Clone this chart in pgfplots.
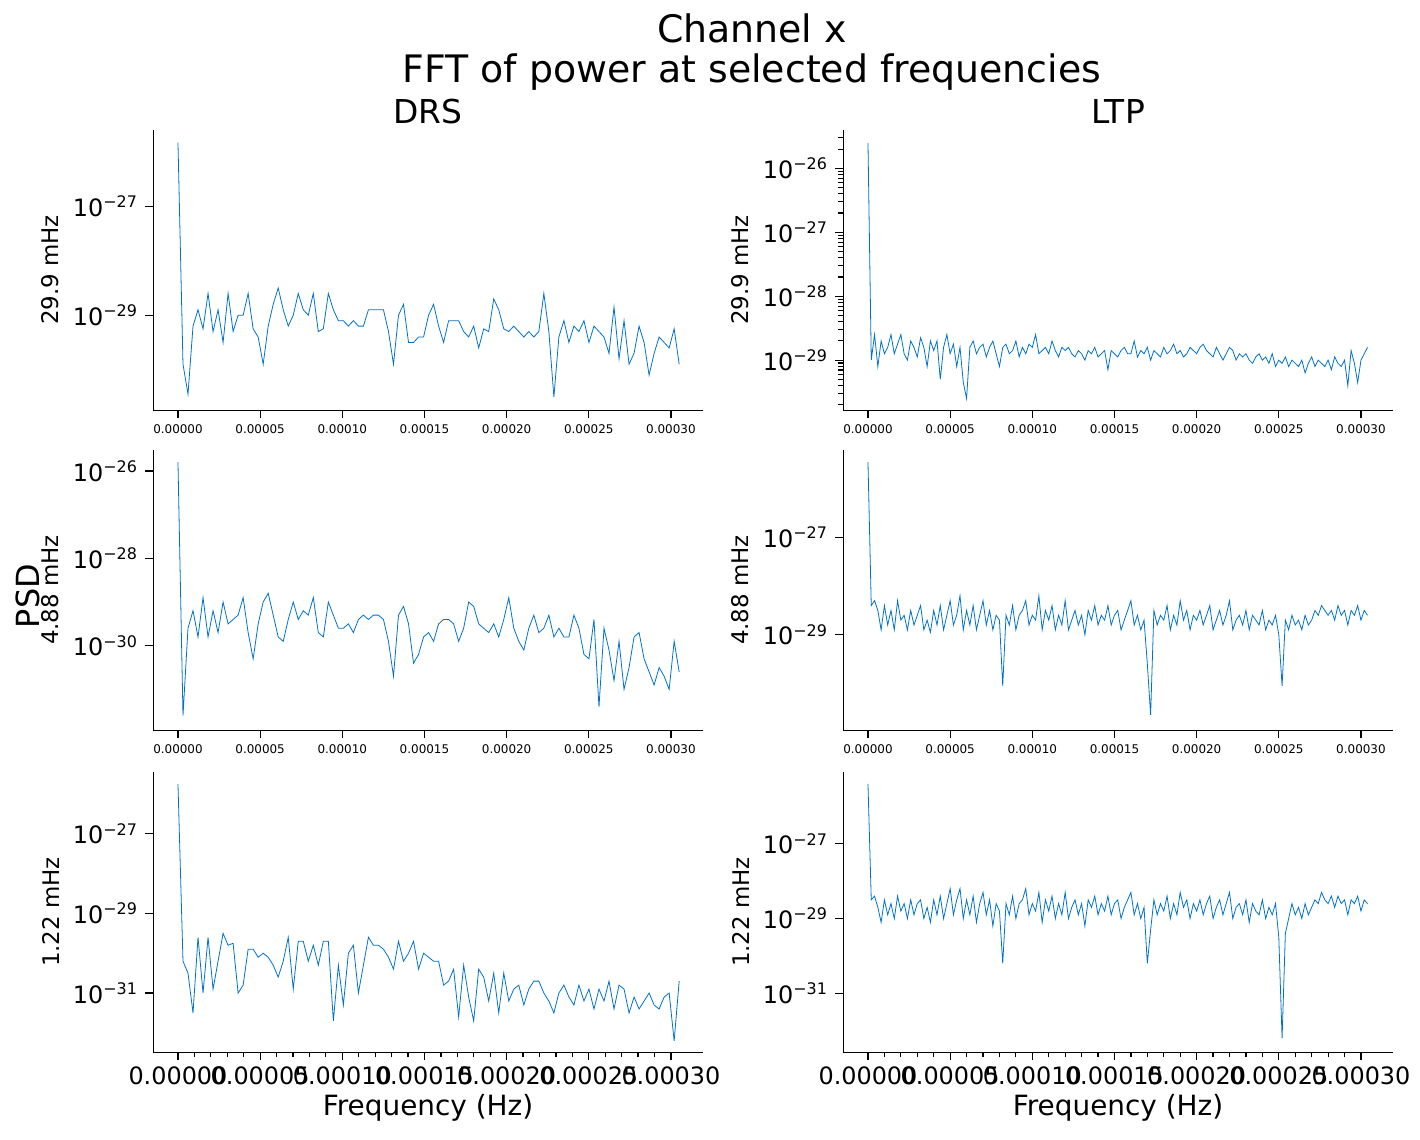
\documentclass[border=0pt]{standalone}
\usepackage{fontspec}
\setmainfont{DejaVu Sans}
\usepackage{pgfplots}
\usepackage{pgfplotstable}
\pgfplotsset{compat=1.18}
\definecolor{psdblue}{RGB}{0,114,206}
\pgfplotstableread{
y
-25.83
-29.9
-30.45
-29.2
-28.9
-29.25
-28.6
-29.3
-28.9
-29.5
-28.6
-29.3
-29.0
-29.0
-28.6
-29.25
-29.4
-29.9
-29.2
-28.8
-28.5
-28.9
-29.2
-29.0
-28.6
-28.9
-29.0
-28.6
-29.3
-29.25
-28.6
-28.9
-29.1
-29.1
-29.2
-29.1
-29.2
-29.2
-28.9
-28.9
-28.9
-28.9
-29.3
-29.9
-29.0
-28.8
-29.5
-29.5
-29.4
-29.4
-29.0
-28.8
-29.2
-29.5
-29.1
-29.1
-29.1
-29.3
-29.4
-29.2
-29.6
-29.25
-29.3
-28.7
-28.9
-29.25
-29.3
-29.2
-29.3
-29.4
-29.3
-29.4
-29.3
-28.6
-29.3
-30.5
-29.4
-29.1
-29.5
-29.2
-29.3
-29.1
-29.5
-29.2
-29.3
-29.4
-29.7
-28.85
-29.8
-29.1
-29.9
-29.7
-29.2
-29.5
-30.1
-29.7
-29.4
-29.5
-29.6
-29.25
-29.9
}\rOneL
\pgfplotstableread{
y
-25.8
-31.6
-29.6
-29.2
-29.8
-28.9
-29.8
-29.2
-29.7
-29.0
-29.5
-29.4
-29.3
-28.9
-29.7
-30.3
-29.5
-29.0
-28.8
-29.3
-29.8
-29.9
-29.4
-29.0
-29.4
-29.2
-29.3
-28.9
-29.7
-29.8
-29.0
-29.3
-29.6
-29.6
-29.5
-29.7
-29.4
-29.3
-29.4
-29.3
-29.3
-29.4
-29.9
-30.7
-29.3
-29.1
-29.5
-30.4
-30.2
-29.8
-29.7
-29.9
-29.5
-29.4
-29.4
-29.5
-29.9
-29.6
-29.0
-29.1
-29.5
-29.6
-29.7
-29.5
-29.8
-29.4
-28.9
-29.6
-29.9
-30.1
-29.6
-29.3
-29.7
-29.6
-29.3
-29.8
-29.6
-29.8
-29.8
-29.3
-29.6
-30.2
-30.3
-29.4
-31.4
-29.6
-30.1
-30.8
-29.9
-31.0
-30.5
-29.8
-29.7
-30.3
-30.6
-30.9
-30.5
-30.7
-31.0
-29.9
-30.6
}\rTwoL
\pgfplotstableread{
y
-25.75
-30.2
-30.5
-31.5
-29.6
-31.0
-29.6
-30.9
-30.2
-29.5
-29.8
-29.75
-31.0
-30.8
-29.9
-29.9
-30.1
-30.0
-30.1
-30.3
-30.6
-30.2
-29.6
-30.9
-29.7
-29.7
-30.2
-29.8
-30.3
-29.7
-29.7
-31.7
-30.3
-31.3
-30.0
-29.8
-31.0
-30.3
-29.6
-29.8
-29.8
-29.9
-30.1
-30.4
-29.7
-30.2
-30.0
-29.7
-30.4
-30.0
-30.1
-30.2
-30.2
-30.8
-30.7
-30.4
-31.6
-30.3
-31.1
-31.7
-30.4
-30.6
-31.2
-30.5
-31.5
-30.5
-31.2
-30.9
-30.8
-31.3
-30.9
-30.7
-30.7
-31.0
-31.2
-31.5
-31.0
-30.8
-31.1
-31.3
-30.8
-31.2
-30.9
-31.4
-30.9
-31.2
-30.7
-31.4
-30.8
-30.9
-31.5
-31.1
-31.4
-31.2
-31.0
-31.3
-31.4
-31.1
-31.0
-32.2
-30.7
}\rThreeL
\pgfplotstableread{
y
-25.6 
-29.0 
-28.6 
-29.1 
-28.7 
-28.9 
-28.8 
-28.6 
-28.9 
-28.75
-28.6 
-28.9 
-29.0 
-28.7 
-28.8 
-28.95
-28.65
-28.8 
-29.1 
-28.7
-28.85
-28.7 
-29.3 
-28.8 
-28.6 
-28.9 
-28.75
-29.1 
-28.8 
-29.35
-29.6 
-28.8 
-28.7 
-28.9 
-28.8 
-28.75
-28.95
-28.8 
-28.7 
-28.9
-29.1 
-28.8 
-28.75
-28.9 
-28.85
-28.7 
-28.95
-28.8 
-28.9 
-28.75
-28.8 
-28.6 
-28.9 
-28.85
-28.8 
-28.9 
-28.7 
-28.85
-28.95
-28.8
-28.85
-28.8 
-28.9 
-28.95
-28.85
-28.9 
-29.0 
-28.85
-28.9 
-28.8
-28.95
-28.9 
-28.85
-29.15
-28.85
-28.9 
-28.95
-28.85
-28.8 
-28.9
-28.9 
-28.7 
-28.95
-28.85
-28.9 
-28.8 
-29.0 
-28.85
-28.9 
-28.95
-28.8 
-28.9 
-28.85
-28.75
-28.9 
-28.85
-28.95
-28.9 
-28.8 
-28.85
-28.9 
-28.8 
-28.75
-28.85
-28.9 
-28.95
-28.8 
-28.9 
-29.0 
-28.9
-28.8 
-28.85
-29.0 
-28.9 
-28.95
-28.9 
-29.0 
-29.05
-28.95
-28.9
-29.0 
-28.95
-29.05
-28.9 
-29.1 
-29.0 
-29.05
-28.95
-29.1 
-29.0
-29.05
-29.1 
-29.0 
-29.2 
-29.05
-28.95
-29.1 
-29.0 
-29.05
-29.1
-29.0 
-29.15
-28.95
-29.05
-29.1 
-29.0 
-29.4 
-28.85
-29.05
-29.35
-29.0 
-28.9 
-28.8
}\rOneR
\pgfplotstableread{
y
-25.45
-28.4
-28.3
-28.5
-28.9
-28.4
-28.8
-28.5
-28.9
-28.3
-28.7
-28.6
-28.9
-28.5
-28.8
-28.6
-28.4
-28.9
-28.7
-28.95
-28.5
-28.8
-28.4
-28.9
-28.6
-28.3
-28.8
-28.6
-28.2
-28.9
-28.5
-28.8
-28.4
-28.9
-28.6
-28.3
-28.8
-28.5
-28.9
-28.6
-28.7
-30.05
-28.6
-28.8
-28.4
-28.9
-28.6
-28.5
-28.3
-28.8
-28.6
-28.7
-28.2
-28.9
-28.5
-28.7
-28.4
-28.9
-28.6
-28.8
-28.3
-28.9
-28.7
-28.5
-28.8
-28.6
-29.0
-28.5
-28.7
-28.4
-28.8
-28.6
-28.7
-28.4
-28.8
-28.6
-28.5
-28.9
-28.7
-28.5
-28.3
-28.8
-28.6
-28.9
-28.7
-29.6
-30.65
-28.5
-28.8
-28.6
-28.7
-28.4
-28.9
-28.6
-28.8
-28.3
-28.7
-28.5
-28.9
-28.6
-28.7
-28.5
-28.8
-28.6
-28.4
-28.9
-28.7
-28.5
-28.8
-28.6
-28.3
-28.9
-28.7
-28.6
-28.8
-28.5
-28.9
-28.6
-28.7
-28.8
-28.5
-28.9
-28.7
-28.8
-28.6
-29.0
-30.05
-28.7
-28.9
-28.6
-28.8
-28.7
-28.9
-28.6
-28.8
-28.7
-28.5
-28.6
-28.4
-28.5
-28.6
-28.5
-28.7
-28.4
-28.6
-28.5
-28.8
-28.5
-28.6
-28.4
-28.7
-28.5
-28.6
}\rTwoR
\pgfplotstableread{
y
-25.4
-28.5
-28.4
-28.7
-29.1
-28.5
-28.9
-28.6
-29.0
-28.4
-28.8
-28.6
-29.0
-28.5
-28.9
-28.6
-28.5
-29.0
-28.7
-29.1
-28.5
-28.9
-28.4
-29.0
-28.6
-28.2
-28.9
-28.5
-28.2
-29.0
-28.5
-28.9
-28.4
-29.1
-28.6
-28.3
-28.9
-28.5
-29.2
-28.6
-28.8
-30.2
-28.6
-28.9
-28.4
-29.0
-28.6
-28.5
-28.2
-28.9
-28.6
-28.8
-28.3
-29.1
-28.5
-28.8
-28.4
-29.0
-28.6
-28.9
-28.3
-29.0
-28.7
-28.5
-28.9
-28.6
-29.2
-28.5
-28.7
-28.4
-28.9
-28.6
-28.8
-28.4
-28.9
-28.6
-28.5
-29.0
-28.7
-28.5
-28.3
-28.9
-28.6
-29.0
-28.7
-30.2
-29.3
-28.5
-28.9
-28.6
-28.8
-28.4
-29.0
-28.6
-28.9
-28.3
-28.7
-28.5
-29.0
-28.6
-28.8
-28.5
-28.9
-28.6
-28.4
-29.0
-28.7
-28.5
-28.9
-28.6
-28.3
-29.0
-28.7
-28.6
-28.9
-28.5
-29.1
-28.6
-28.8
-28.9
-28.5
-29.0
-28.7
-28.9
-28.6
-29.5
-32.2
-29.4
-29.0
-28.6
-28.9
-28.7
-29.0
-28.6
-28.9
-28.7
-28.5
-28.6
-28.3
-28.5
-28.6
-28.4
-28.7
-28.4
-28.6
-28.5
-28.9
-28.5
-28.6
-28.4
-28.8
-28.5
-28.6
}\rThreeR
\pgfplotsset{
  base/.style={scale only axis, width=275bp, height=140bp, anchor=north west,
    axis x line*=bottom, axis y line*=left, axis line style={-},
    tick align=outside, major tick length=4bp, minor tick length=2.5bp,
    tick style={black, line width=0.6bp},
    xmin=-1.52, xmax=31.95,
    xtick={0,5,10,15,20,25,30},
    xticklabels={0.00000,0.00005,0.00010,0.00015,0.00020,0.00025,0.00030},
    yticklabel style={font=\fontsize{12}{13}\selectfont},
    ylabel style={font=\fontsize{11.5}{12}\selectfont},
    cycle list={{psdblue, line width=1.1bp, mark=none}},
  },
  smallx/.style={xticklabel style={font=\fontsize{6}{7}\selectfont}},
  bigx/.style={xticklabel style={font=\fontsize{12}{13}\selectfont},
    minor x tick num=4, xlabel={Frequency (Hz)},
    xlabel style={font=\fontsize{14}{15}\selectfont, yshift=2bp}},
}
\newcommand{\tl}[1]{10\textsuperscript{−#1}}
\begin{document}
\begin{tikzpicture}
\path (0,0) rectangle (710bp,-570bp);
\node[font=\fontsize{19}{22}\selectfont] at (376bp,-14bp) {Channel x};
\node[font=\fontsize{19}{22}\selectfont] at (376bp,-36bp) {FFT of power at selected frequencies};
\node[font=\fontsize{16.5}{19}\selectfont] at (214bp,-56bp) {DRS};
\node[font=\fontsize{16.5}{19}\selectfont] at (559bp,-56bp) {LTP};
% row 1
\begin{axis}[base, smallx, at={(76.5bp,-65bp)}, ymin=-30.74, ymax=-25.6,
  ytick={-27,-29}, yticklabels={\tl{27},\tl{29}}, ylabel={29.9 mHz}]
\addplot table[x expr=\coordindex*0.305, y=y]{\rOneL};
\end{axis}
\begin{axis}[base, smallx, at={(421.5bp,-65bp)}, ymin=-29.78, ymax=-25.4,
  ytick={-26,-27,-28,-29}, yticklabels={\tl{26},\tl{27},\tl{28},\tl{29}}, ylabel={29.9 mHz},
  minor ytick={-29.699,-29.523,-29.398,-29.301,-29.222,-29.155,-29.097,-29.046,
  -28.699,-28.523,-28.398,-28.301,-28.222,-28.155,-28.097,-28.046,
  -27.699,-27.523,-27.398,-27.301,-27.222,-27.155,-27.097,-27.046,
  -26.699,-26.523,-26.398,-26.301,-26.222,-26.155,-26.097,-26.046,
  -25.699,-25.523}]
\addplot table[x expr=\coordindex*0.2, y=y]{\rOneR};
\end{axis}
% row 2
\begin{axis}[base, smallx, at={(76.5bp,-225bp)}, ymin=-31.93, ymax=-25.52,
  ytick={-26,-28,-30}, yticklabels={\tl{26},\tl{28},\tl{30}}, ylabel={4.88 mHz}]
\addplot table[x expr=\coordindex*0.305, y=y]{\rTwoL};
\end{axis}
\begin{axis}[base, smallx, at={(421.5bp,-225bp)}, ymin=-30.96, ymax=-25.2,
  ytick={-27,-29}, yticklabels={\tl{27},\tl{29}}, ylabel={4.88 mHz}]
\addplot table[x expr=\coordindex*0.2, y=y]{\rTwoR};
\end{axis}
% row 3
\begin{axis}[base, bigx, at={(76.5bp,-386bp)}, ymin=-32.48, ymax=-25.45,
  ytick={-27,-29,-31}, yticklabels={\tl{27},\tl{29},\tl{31}}, ylabel={1.22 mHz}]
\addplot table[x expr=\coordindex*0.305, y=y]{\rThreeL};
\end{axis}
\begin{axis}[base, bigx, at={(421.5bp,-386bp)}, ymin=-32.57, ymax=-25.08,
  ytick={-27,-29,-31}, yticklabels={\tl{27},\tl{29},\tl{31}}, ylabel={1.22 mHz}]
\addplot table[x expr=\coordindex*0.2, y=y]{\rThreeR};
\end{axis}
\node[rotate=90, font=\fontsize{16}{18}\selectfont] at (14bp,-298bp) {PSD};
\end{tikzpicture}
\end{document}
